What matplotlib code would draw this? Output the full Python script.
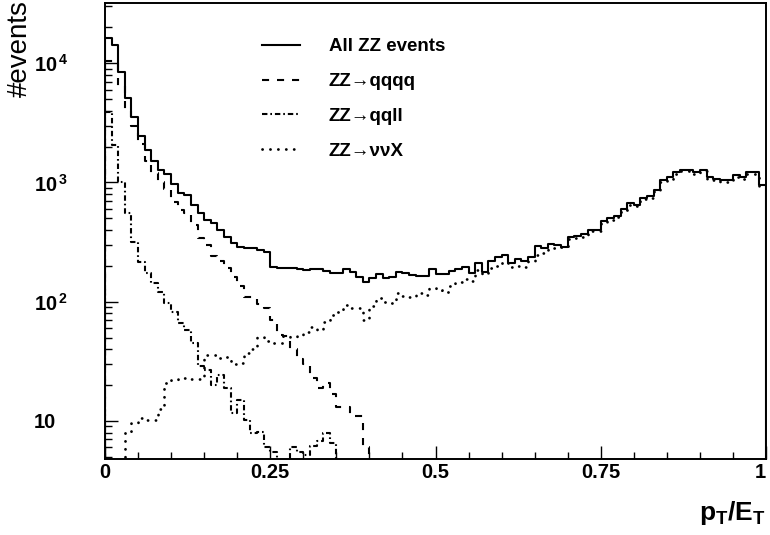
import numpy as np
import matplotlib
matplotlib.use("Agg")
import matplotlib.pyplot as plt
from matplotlib.ticker import FixedLocator, FixedFormatter, LogLocator, NullFormatter, MultipleLocator

plt.rcParams['font.family'] = ['Liberation Sans', 'DejaVu Sans']
plt.rcParams['mathtext.fontset'] = 'custom'
plt.rcParams['mathtext.rm'] = 'Liberation Sans'
plt.rcParams['mathtext.bf'] = 'Liberation Sans:bold'
plt.rcParams['mathtext.it'] = 'Liberation Sans:italic'

# 100 bins of pT/ET between 0 and 1
n_bins = 100
x_lo, x_hi = 0.0, 1.0

all_zz = [16200, 14200, 8400, 5080, 3520, 2440, 1890, 1500, 1285, 1167,
          973, 824, 793, 653, 560, 489, 461, 403, 352, 313,
          290, 284, 284, 274, 263, 197, 193, 193, 193, 189,
          186, 189, 189, 182, 175, 175, 189, 179, 162, 147,
          159, 172, 159, 162, 179, 175, 168, 165, 165, 189,
          172, 172, 182, 189, 197, 175, 213, 179, 221, 239,
          248, 213, 230, 221, 239, 296, 284, 307, 301, 290,
          352, 358, 372, 403, 403, 480, 500, 528, 605, 667,
          653, 748, 763, 873, 1040, 1103, 1215, 1285, 1285, 1215,
          1285, 1103, 1080, 1040, 1040, 1146, 1103, 1215, 1215, 961]

zz_qqqq = [10400, 10400, 6500, 4000, 2950, 2100, 1500, 1210, 1000, 880,
           690, 590, 560, 440, 345, 300, 240, 220, 190, 162,
           135, 110, 110, 95, 89, 70, 53, 52, 40, 33,
           30, 23, 19, 21, 17, 13, 13, 11, 11, 6,
           0, 0, 0, 0, 0, 0, 0, 0, 0, 0,
           0, 0, 0, 0, 0, 0, 0, 0, 0, 0,
           0, 0, 0, 0, 0, 0, 0, 0, 0, 0,
           0, 0, 0, 0, 0, 0, 0, 0, 0, 0,
           0, 0, 0, 0, 0, 0, 0, 0, 0, 0,
           0, 0, 0, 0, 0, 0, 0, 0, 0, 0]

zz_qqll = [3870, 2080, 1018, 560, 319, 217, 175, 144, 121, 98,
           82, 66.6, 58, 45, 29, 26.8, 20, 24.4, 18.9, 11.7,
           15, 10.2, 7.9, 8.1, 6.0, 5.5, 0, 0, 6, 5.5,
           5.2, 6.2, 6.8, 8.0, 6.5, 0, 0, 0, 0, 0,
           0, 0, 0, 0, 0, 0, 0, 0, 0, 0,
           0, 0, 0, 0, 0, 0, 0, 0, 0, 0,
           0, 0, 0, 0, 0, 0, 0, 0, 0, 0,
           0, 0, 0, 0, 0, 0, 0, 0, 0, 0,
           0, 0, 0, 0, 0, 0, 0, 0, 0, 0,
           0, 0, 0, 0, 0, 0, 0, 0, 0, 0]

zz_nnx = [0, 0, 0, 8.1, 9.6, 10.6, 10.2, 10.2, 12.6, 20.8,
          22, 22.5, 23, 22.5, 22.5, 35.8, 35.8, 33.8, 34.5, 30.1,
          30.7, 37, 40.3, 50.7, 47, 45.3, 45, 51.8, 50.9, 52.8,
          56, 61.6, 58, 68, 77.8, 82.4, 94, 89, 89, 70.6,
          92.6, 108, 100, 98, 119, 112, 110, 119, 114, 131,
          126, 121, 136, 147, 156, 150, 186, 172, 193, 200,
          217, 197, 200, 197, 221, 248, 258, 284, 284, 290,
          338, 345, 352, 390, 390, 465, 485, 512, 587, 647,
          633, 726, 740, 847, 1009, 1070, 1179, 1246, 1246, 1179,
          1246, 1070, 1048, 1009, 1009, 1112, 1070, 1179, 1179, 932]

labels = ["All ZZ events", "ZZ\u2192qqqq", "ZZ\u2192qqll", "ZZ\u2192\u03bd\u03bdX"]

edges = np.linspace(x_lo, x_hi, n_bins + 1)

fig = plt.figure(figsize=(7.7, 5.35), dpi=100)
ax = fig.add_axes([105/770, 1 - 459/535, 661/770, 456/535])

floor = 0.1  # empty bins drawn below the visible range
styles = [
    dict(linestyle='-', lw=1.5),
    dict(linestyle=(0, (3.4, 3.8)), lw=1.5),
    dict(linestyle=(0, (2.6, 1.4, 0.8, 1.4)), lw=1.5),
    dict(linestyle=(0, (0.05, 2.8)), lw=2.0, dash_capstyle='round'),
]
handles = []
for vals, lab, st in zip([all_zz, zz_qqqq, zz_qqll, zz_nnx], labels, styles):
    v = np.asarray(vals, dtype=float)
    v = np.where(v > 0, v, floor)
    y = np.append(v, v[-1])
    ln, = ax.step(edges, y, where='post', color='black', label=lab, **st)
    # closing verticals at both ends, like a histogram outline
    ax.plot([edges[0], edges[0]], [floor, v[0]], color='black', **st)
    ax.plot([edges[-1], edges[-1]], [floor, v[-1]], color='black', **st)
    handles.append(ln)

ax.set_yscale('log')
ax.set_xlim(0, 1)
ax.set_ylim(4.8, 3.2e4)

ax.xaxis.set_major_locator(FixedLocator([0, 0.25, 0.5, 0.75, 1.0]))
ax.xaxis.set_major_formatter(FixedFormatter(['0', '0.25', '0.5', '0.75', '1']))
ax.xaxis.set_minor_locator(MultipleLocator(0.05))

ax.yaxis.set_major_locator(FixedLocator([10, 100, 1000, 10000]))
ax.yaxis.set_major_formatter(FixedFormatter(['10', r'$\mathbf{10}^{\,\mathbf{2}}$',
                                             r'$\mathbf{10}^{\,\mathbf{3}}$',
                                             r'$\mathbf{10}^{\,\mathbf{4}}$']))
ax.yaxis.set_minor_locator(LogLocator(base=10, subs=np.arange(2, 10)))
ax.yaxis.set_minor_formatter(NullFormatter())

ax.tick_params(which='both', direction='in', top=False, right=False, width=1)
ax.tick_params(which='major', length=9.5)
ax.tick_params(which='minor', length=4.8)
ax.tick_params(axis='x', which='major', labelsize=14.5, pad=3)
ax.tick_params(axis='y', which='major', labelsize=14.5, pad=51)
for t in ax.get_xticklabels() + ax.get_yticklabels():
    t.set_fontweight('bold')
for t in ax.get_yticklabels():
    t.set_horizontalalignment('left')
ax.get_xticklabels()[-1].set_horizontalalignment('right')
ax.get_xticklabels()[-1].set_x(1.0)

for s in ax.spines.values():
    s.set_linewidth(1.4)

fig.text(20/770, 1.0, '#events', rotation=90, ha='center', va='top', fontsize=20)
fig.text(766/770, 8/535, r'$\mathbf{p_{T}/E_{T}}$', ha='right', va='bottom', fontsize=19)

leg = ax.legend(handles=handles, loc='upper left', bbox_to_anchor=(157/661, 1 - 35/456),
                frameon=False, handlelength=2.0, handletextpad=1.55, labelspacing=0.95,
                borderaxespad=0, borderpad=0,
                prop={'weight': 'bold', 'size': 13.5})

fig.savefig('out.png', dpi=100)
